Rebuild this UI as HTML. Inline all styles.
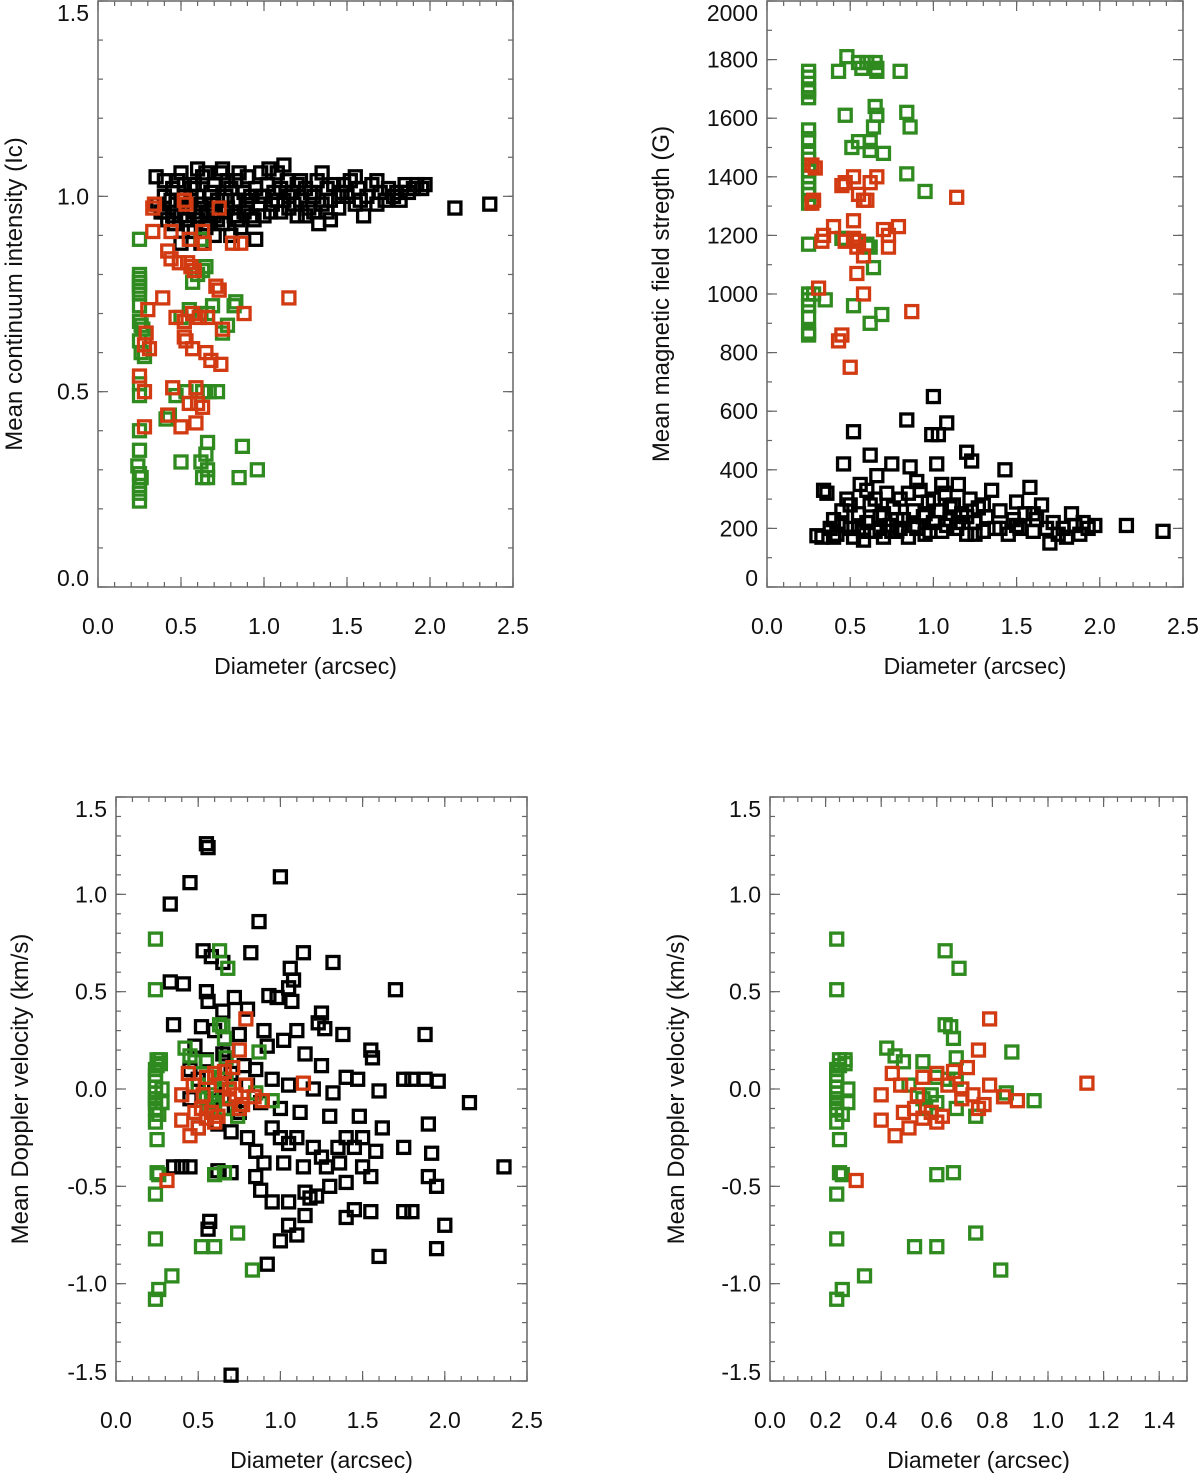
<!DOCTYPE html>
<html><head><meta charset="utf-8"><style>
body{margin:0;background:#fff;}
svg text{font-family:"Liberation Sans",sans-serif;fill:#111;}
</style></head><body>
<svg id="fig" width="1200" height="1476" viewBox="0 0 1200 1476" xmlns="http://www.w3.org/2000/svg"></svg>
<script>
// ---- data ----
const p1Green=[[0.25,0.89],[0.25,0.80],[0.25,0.79],[0.25,0.78],[0.25,0.77],[0.25,0.76],[0.25,0.75],[0.25,0.72],[0.25,0.68],[0.26,0.67],[0.27,0.66],[0.25,0.63],[0.26,0.60],[0.28,0.59],[0.25,0.52],[0.25,0.49],[0.25,0.40],[0.25,0.35],[0.24,0.31],[0.25,0.29],[0.26,0.28],[0.25,0.26],[0.25,0.24],[0.25,0.22],[0.62,0.89],[0.6,0.80],[0.63,0.81],[0.65,0.82],[0.57,0.78],[0.69,0.72],[0.66,0.70],[0.62,0.70],[0.55,0.71],[0.5,0.69],[0.83,0.73],[0.82,0.72],[0.78,0.67],[0.75,0.65],[0.72,0.50],[0.67,0.50],[0.63,0.50],[0.53,0.50],[0.47,0.49],[0.43,0.44],[0.41,0.43],[0.66,0.37],[0.65,0.34],[0.62,0.32],[0.5,0.32],[0.66,0.30],[0.63,0.28],[0.66,0.28],[0.87,0.36],[0.96,0.30],[0.85,0.28]];
const p1Red=[[0.33,0.97],[0.34,0.98],[0.53,0.98],[0.52,0.99],[0.73,0.97],[0.33,0.91],[0.44,0.91],[0.63,0.91],[0.64,0.88],[0.81,0.88],[0.86,0.88],[0.55,0.89],[0.42,0.86],[0.44,0.84],[0.49,0.83],[0.54,0.83],[0.56,0.82],[0.58,0.81],[0.71,0.77],[0.73,0.76],[0.30,0.71],[0.29,0.65],[0.28,0.62],[0.31,0.61],[0.39,0.74],[0.47,0.69],[0.52,0.68],[0.57,0.70],[0.61,0.69],[0.66,0.69],[0.75,0.66],[0.88,0.70],[1.15,0.74],[0.53,0.63],[0.52,0.64],[0.57,0.61],[0.65,0.60],[0.68,0.58],[0.74,0.57],[0.25,0.54],[0.28,0.50],[0.45,0.51],[0.59,0.51],[0.55,0.47],[0.60,0.47],[0.63,0.46],[0.42,0.44],[0.50,0.41],[0.59,0.42],[0.28,0.41]];
const p1Black=[[0.35,1.05],[0.38,0.96],[0.4,1.0],[0.42,0.94],[0.45,1.02],[0.47,0.98],[0.48,1.04],[0.5,0.95],[0.52,1.0],[0.55,0.97],[0.56,1.02],[0.58,1.03],[0.6,0.94],[0.6,1.0],[0.62,0.98],[0.63,1.05],[0.65,0.92],[0.66,0.96],[0.68,1.01],[0.7,1.03],[0.7,0.95],[0.72,0.99],[0.74,1.06],[0.75,0.93],[0.77,1.0],[0.78,0.97],[0.8,1.02],[0.82,0.95],[0.83,1.04],[0.85,0.99],[0.86,0.92],[0.88,1.01],[0.9,0.97],[0.9,1.05],[0.92,1.0],[0.94,0.94],[0.95,1.02],[0.97,0.98],[0.98,1.06],[1.0,1.0],[1.0,0.95],[1.02,1.03],[1.03,1.07],[1.05,0.98],[1.06,1.01],[1.08,1.06],[1.1,0.96],[1.1,1.02],[1.12,0.99],[1.14,1.04],[1.15,0.97],[1.17,1.01],[1.2,1.03],[1.2,0.95],[1.22,0.99],[1.25,1.02],[1.27,0.97],[1.3,1.0],[1.32,1.04],[1.33,0.93],[1.35,0.98],[1.38,1.02],[1.4,0.99],[1.42,1.03],[1.45,0.97],[1.47,1.01],[1.5,1.0],[1.52,1.04],[1.55,0.98],[1.57,1.02],[1.6,0.95],[1.62,1.0],[1.65,1.03],[1.68,0.98],[1.7,1.01],[1.73,0.99],[1.75,1.02],[1.78,1.0],[1.8,1.01],[1.82,0.99],[1.85,1.03],[1.87,1.01],[1.9,1.02],[1.92,1.03],[1.95,1.02],[1.97,1.03],[2.15,0.97],[2.36,0.98],[0.45,0.95],[0.5,1.06],[0.55,0.92],[0.6,1.07],[0.65,1.06],[0.7,0.9],[0.8,0.9],[0.95,0.89],[0.75,1.07],[0.85,1.06],[0.62,0.88],[0.5,0.88],[1.25,0.95],[1.12,1.08],[1.35,1.06],[1.55,1.05],[0.52,1.03],[0.58,0.96],[0.68,0.98],[0.78,1.04],[0.88,0.96],[0.98,1.0],[1.08,0.99],[1.18,0.98],[1.28,1.01],[1.38,0.96],[1.48,1.03],[1.58,0.99],[1.68,1.04],[1.4,0.94],[1.3,0.96],[0.4,1.04],[0.36,0.98],[0.44,0.99],[0.4,0.96],[0.46,0.93],[0.54,0.94],[0.58,0.91],[0.66,0.93],[0.72,0.94],[0.76,0.96],[0.84,0.94],[0.92,0.95],[1.04,0.96],[0.62,0.95],[0.7,0.97],[0.5,0.99],[0.56,0.99],[0.82,0.99],[0.9,0.99],[1.15,1.0],[1.22,1.04],[1.45,1.0]];
const p2Green=[[0.25,1760],[0.25,1740],[0.25,1700],[0.25,1690],[0.25,1670],[0.25,1560],[0.25,1530],[0.25,1480],[0.25,1460],[0.25,1440],[0.25,1420],[0.25,1400],[0.25,1380],[0.25,1360],[0.25,1340],[0.25,1310],[0.25,1170],[0.25,1000],[0.25,980],[0.25,960],[0.25,920],[0.25,870],[0.25,860],[0.48,1810],[0.43,1760],[0.55,1790],[0.57,1770],[0.6,1790],[0.65,1790],[0.66,1770],[0.66,1760],[0.8,1760],[0.47,1610],[0.55,1520],[0.51,1500],[0.65,1640],[0.66,1610],[0.64,1570],[0.84,1620],[0.86,1570],[0.62,1520],[0.62,1490],[0.7,1480],[0.84,1410],[0.95,1350],[0.35,980],[0.45,1190],[0.6,1170],[0.62,1160],[0.64,1090],[0.62,900],[0.69,930],[0.52,960],[0.28,1000]];
const p2Red=[[0.27,1440],[0.29,1430],[0.27,1310],[0.28,1320],[0.47,1380],[0.45,1370],[0.52,1400],[0.55,1340],[0.58,1320],[0.6,1320],[0.62,1380],[0.66,1400],[1.14,1330],[0.52,1250],[0.54,1160],[0.4,1230],[0.34,1200],[0.33,1180],[0.31,1020],[0.47,1180],[0.52,1190],[0.55,1180],[0.58,1130],[0.7,1220],[0.73,1200],[0.79,1230],[0.73,1160],[0.54,1070],[0.58,1000],[0.45,860],[0.43,840],[0.5,750],[0.87,940]];
const p2Black=[[0.3,175],[0.33,170],[0.34,330],[0.36,320],[0.38,200],[0.4,230],[0.42,180],[0.45,260],[0.46,420],[0.48,300],[0.5,200],[0.52,530],[0.52,170],[0.55,250],[0.56,350],[0.58,160],[0.6,220],[0.62,450],[0.62,280],[0.65,190],[0.66,380],[0.68,240],[0.7,170],[0.72,320],[0.74,210],[0.75,420],[0.76,270],[0.78,190],[0.8,300],[0.82,230],[0.84,570],[0.85,170],[0.86,410],[0.88,260],[0.9,200],[0.92,330],[0.94,240],[0.95,180],[0.97,290],[0.99,520],[1.0,650],[1.0,220],[1.02,420],[1.03,520],[1.04,260],[1.05,190],[1.07,320],[1.08,560],[1.1,230],[1.12,280],[1.14,200],[1.15,350],[1.17,250],[1.2,460],[1.2,180],[1.22,300],[1.23,430],[1.25,220],[1.27,270],[1.3,190],[1.32,240],[1.35,330],[1.37,200],[1.4,260],[1.43,400],[1.45,180],[1.48,230],[1.5,290],[1.52,200],[1.55,250],[1.58,340],[1.6,190],[1.62,230],[1.65,280],[1.68,200],[1.7,150],[1.72,220],[1.75,180],[1.78,200],[1.8,170],[1.83,250],[1.85,210],[1.88,180],[1.9,220],[1.93,200],[1.97,210],[2.16,210],[2.38,190],[0.4,170],[0.5,280],[0.6,330],[0.7,250],[0.8,200],[0.9,360],[1.0,300],[1.1,270],[1.2,240],[1.3,280],[1.4,200],[1.5,210],[1.6,250],[0.45,210],[0.55,200],[0.65,300],[0.75,190],[0.85,320],[0.95,250],[1.05,350],[1.15,220],[1.25,180],[0.58,190],[0.68,200],[0.78,230],[0.88,210],[0.98,190],[1.08,210]];
const vGreen=[[0.24,0.77],[0.24,0.51],[0.25,0.15],[0.25,0.12],[0.24,0.10],[0.24,0.07],[0.24,0.04],[0.24,0.01],[0.24,-0.02],[0.24,-0.05],[0.24,-0.07],[0.24,-0.10],[0.24,-0.17],[0.26,-0.13],[0.25,-0.26],[0.27,0.15],[0.27,0.13],[0.28,0.0],[0.28,-0.07],[0.25,-0.43],[0.26,-0.44],[0.24,-0.54],[0.24,-0.77],[0.26,-1.03],[0.24,-1.08],[0.34,-0.96],[0.42,0.21],[0.45,0.17],[0.48,0.14],[0.5,0.02],[0.55,0.14],[0.6,0.06],[0.63,0.33],[0.65,0.32],[0.66,0.26],[0.63,0.71],[0.68,0.62],[0.67,0.16],[0.67,0.05],[0.64,0.05],[0.55,-0.05],[0.56,-0.10],[0.6,-0.07],[0.67,-0.10],[0.74,-0.14],[0.87,0.19],[0.85,-0.02],[0.95,-0.06],[0.6,-0.44],[0.66,-0.43],[0.52,-0.81],[0.6,-0.81],[0.74,-0.74],[0.83,-0.93],[0.58,-0.03]];
const vRed=[[0.79,0.36],[0.75,0.2],[0.71,0.11],[0.66,0.09],[0.6,0.08],[0.55,0.06],[0.47,0.02],[0.4,-0.03],[0.4,-0.16],[0.45,-0.24],[0.48,-0.12],[0.52,-0.10],[0.53,-0.03],[0.58,-0.12],[0.6,-0.17],[0.62,-0.14],[0.64,0.02],[0.69,0.0],[0.73,-0.03],[0.75,-0.1],[0.77,-0.08],[0.79,0.02],[0.84,-0.04],[0.89,-0.06],[0.5,-0.2],[0.55,-0.15],[1.14,0.03],[0.31,-0.47],[0.44,0.08],[0.69,-0.05]];
const vBlack=[[0.55,1.26],[0.56,1.24],[0.45,1.06],[1.0,1.09],[0.33,0.95],[0.87,0.86],[0.53,0.71],[0.58,0.68],[0.65,0.65],[0.82,0.70],[1.14,0.70],[1.32,0.65],[1.06,0.62],[1.08,0.56],[1.05,0.52],[0.33,0.55],[0.41,0.54],[1.7,0.51],[0.55,0.50],[0.56,0.45],[0.72,0.47],[0.93,0.48],[0.98,0.47],[1.07,0.45],[1.25,0.39],[0.8,0.41],[0.65,0.40],[1.23,0.34],[1.27,0.31],[1.38,0.28],[1.88,0.28],[0.35,0.33],[0.52,0.32],[0.6,0.3],[0.75,0.28],[0.9,0.3],[1.1,0.3],[1.02,0.25],[0.48,0.22],[0.68,0.2],[0.92,0.22],[0.78,0.12],[1.15,0.18],[1.25,0.12],[1.4,0.06],[1.55,0.2],[1.56,0.16],[0.7,0.08],[0.85,0.1],[0.95,0.05],[1.05,0.02],[1.2,0.0],[1.32,-0.02],[1.47,0.05],[1.6,-0.01],[1.75,0.05],[1.8,0.05],[1.96,0.04],[1.88,0.05],[2.15,-0.07],[0.45,-0.05],[0.65,-0.05],[0.88,-0.07],[1.0,-0.1],[1.12,-0.12],[1.3,-0.14],[1.48,-0.14],[1.62,-0.2],[0.5,-0.2],[0.7,-0.22],[0.8,-0.25],[0.95,-0.2],[1.0,-0.25],[1.05,-0.28],[1.1,-0.25],[1.2,-0.3],[1.25,-0.35],[1.35,-0.3],[1.4,-0.25],[1.45,-0.3],[1.5,-0.25],[1.58,-0.32],[1.75,-0.3],[1.92,-0.33],[1.9,-0.18],[0.85,-0.32],[0.9,-0.38],[1.02,-0.38],[1.14,-0.4],[1.28,-0.4],[1.36,-0.38],[1.5,-0.4],[1.55,-0.45],[0.35,-0.4],[0.4,-0.4],[0.45,-0.4],[0.62,-0.42],[0.7,-0.43],[0.85,-0.45],[1.3,-0.5],[1.4,-0.48],[1.15,-0.53],[1.18,-0.56],[1.22,-0.55],[0.88,-0.52],[0.95,-0.58],[1.05,-0.58],[1.45,-0.62],[1.55,-0.63],[1.75,-0.63],[1.8,-0.63],[1.9,-0.45],[1.95,-0.5],[2.36,-0.4],[1.15,-0.65],[1.05,-0.7],[0.57,-0.68],[0.56,-0.72],[1.4,-0.66],[1.1,-0.75],[2.0,-0.7],[1.0,-0.78],[1.6,-0.86],[1.95,-0.82],[0.92,-0.9],[0.7,-1.47],[0.45,0.1],[0.55,0.15],[0.6,0.0],[0.65,0.18],[0.75,-0.12],[0.8,0.02],[0.5,0.05],[0.72,-0.1],[0.62,-0.18]];
const xTicksA=[0,0.5,1,1.5,2,2.5];
const xLabelsA=["0.0","0.5","1.0","1.5","2.0","2.5"];
const xTicksB=[0,0.2,0.4,0.6,0.8,1.0,1.2,1.4];
const xLabelsB=["0.0","0.2","0.4","0.6","0.8","1.0","1.2","1.4"];
const yTicksI=[0,0.5,1.0,1.5];
const yLabelsI=["0.0","0.5","1.0","1.5"];
const yTicksB=[0,200,400,600,800,1000,1200,1400,1600,1800,2000];
const yLabelsB=["0","200","400","600","800","1000","1200","1400","1600","1800","2000"];
const yTicksV=[-1.5,-1.0,-0.5,0,0.5,1.0,1.5];
const yLabelsV=["-1.5","-1.0","-0.5","0.0","0.5","1.0","1.5"];

const NS="http://www.w3.org/2000/svg";
const svg=document.getElementById('fig');
const GREEN="#2f8a1f",RED="#d23a12",BLACK="#000";
function mk(tag,attrs,parent){const e=document.createElementNS(NS,tag);for(const k in attrs)e.setAttribute(k,attrs[k]);(parent||svg).appendChild(e);return e;}

function panel(id,L,R,T,B,x0,x1,y0,y1,xt,xl,xminor,yt,yl,yminor,ytitle,ytx,series){
  const g=mk('g',{});
  
  
  const sx=v=>L+(v-x0)/(x1-x0)*(R-L);
  const sy=v=>B-(v-y0)/(y1-y0)*(B-T);
  const ax="#666";
  const frame=mk('rect',{x:L,y:T,width:R-L,height:B-T,fill:'none',stroke:ax,'stroke-width':1.5},g);
  
  
  for(let v=x0;v<=x1+1e-9;v+=xminor){const x=sx(v);mk('line',{x1:x,x2:x,y1:B,y2:B-5,stroke:ax,'stroke-width':1.2},g);mk('line',{x1:x,x2:x,y1:T,y2:T+5,stroke:ax,'stroke-width':1.2},g);}
  for(let v=y0;v<=y1+1e-9;v+=yminor){const y=sy(v);mk('line',{x1:L,x2:L+5,y1:y,y2:y,stroke:ax,'stroke-width':1.2},g);mk('line',{x1:R,x2:R-5,y1:y,y2:y,stroke:ax,'stroke-width':1.2},g);}
  xt.forEach((v,i)=>{const x=sx(v);mk('line',{x1:x,x2:x,y1:B,y2:B-10,stroke:ax,'stroke-width':1.2},g);mk('line',{x1:x,x2:x,y1:T,y2:T+10,stroke:ax,'stroke-width':1.2},g);
    const t=mk('text',{x:x,y:B+47,'font-size':23,'text-anchor':'middle'},g);t.textContent=xl[i];
    
    });
  yt.forEach((v,i)=>{const y=sy(v);mk('line',{x1:L,x2:L+10,y1:y,y2:y,stroke:ax,'stroke-width':1.2},g);mk('line',{x1:R,x2:R-10,y1:y,y2:y,stroke:ax,'stroke-width':1.2},g);
    const cy=Math.min(Math.max(y,T+12),B-9);
    const t=mk('text',{x:L-9,y:cy+8,'font-size':23,'text-anchor':'end'},g);t.textContent=yl[i];
    
    });
  const xt2=mk('text',{x:(L+R)/2,y:B+87,'font-size':23,'text-anchor':'middle'},g);xt2.textContent="Diameter (arcsec)";
  
  
  const cy=(T+B)/2;
  const yt2=mk('text',{x:ytx,y:cy,'font-size':24,'text-anchor':'middle',transform:`rotate(-90 ${ytx} ${cy})`},g);yt2.textContent=ytitle;
  
  
  series.forEach(s=>{
    s.data.forEach(p=>{
      const r=mk('rect',{x:sx(p[0])-6,y:sy(p[1])-6,width:12,height:12,fill:'none',stroke:s.color,'stroke-width':3.3},g);
      
      
    });
  });
}
panel('intensity-panel',98,513,1,587,0,2.5,0,1.5,xTicksA,xLabelsA,0.1,yTicksI,yLabelsI,0.1,"Mean continuum intensity (Ic)",22,
  [{name:'black',color:BLACK,data:p1Black},{name:'green',color:GREEN,data:p1Green},{name:'red',color:RED,data:p1Red}]);
panel('field-panel',767,1183,1,587,0,2.5,0,2000,xTicksA,xLabelsA,0.1,yTicksB,yLabelsB,100,"Mean magnetic field stregth (G)",669,
  [{name:'black',color:BLACK,data:p2Black},{name:'green',color:GREEN,data:p2Green},{name:'red',color:RED,data:p2Red}]);
panel('doppler-panel',116,527,797,1381,0,2.5,-1.5,1.5,xTicksA,xLabelsA,0.1,yTicksV,yLabelsV,0.1,"Mean Doppler velocity (km/s)",28,
  [{name:'black',color:BLACK,data:vBlack},{name:'green',color:GREEN,data:vGreen},{name:'red',color:RED,data:vRed}]);
panel('doppler-small-panel',770,1187,797,1381,0,1.5,-1.5,1.5,xTicksB,xLabelsB,0.05,yTicksV,yLabelsV,0.1,"Mean Doppler velocity (km/s)",684,
  [{name:'green',color:GREEN,data:vGreen},{name:'red',color:RED,data:vRed}]);
</script>
</body></html>
